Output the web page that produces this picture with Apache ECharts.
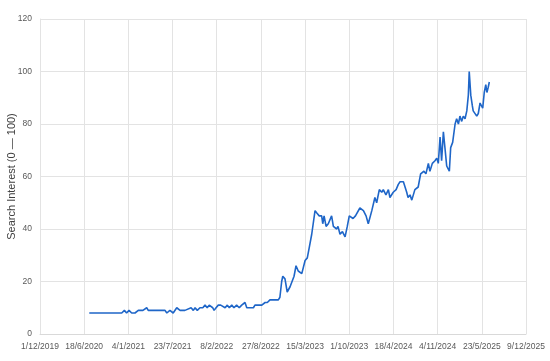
<!DOCTYPE html>
<html>
<head>
<meta charset="utf-8">
<script src="https://cdn.jsdelivr.net/npm/echarts@6/dist/echarts.min.js"></script>
<style>
html,body{margin:0;padding:0;background:#fff;}
#chart{width:550px;height:361px;}
</style>
</head>
<body>
<div id="chart"></div>
<script>
const dates = [
"2020-07-11","2020-12-05","2020-12-17","2020-12-27","2021-01-07","2021-01-19","2021-02-03","2021-02-18","2021-03-11","2021-03-28",
"2021-04-04","2021-06-19","2021-06-27","2021-07-11","2021-07-26","2021-08-11","2021-08-26","2021-09-17","2021-10-15","2021-10-25",
"2021-11-02","2021-11-12","2021-11-24","2021-12-07","2021-12-17","2021-12-27","2022-01-05","2022-01-13","2022-01-21","2022-01-27",
"2022-02-05","2022-02-15","2022-02-26","2022-03-07","2022-03-18","2022-03-28","2022-04-06","2022-04-17","2022-04-27","2022-05-09",
"2022-05-21","2022-06-01","2022-06-08","2022-06-16","2022-06-24","2022-07-01","2022-07-09","2022-07-24","2022-07-31","2022-08-15",
"2022-08-31","2022-09-15","2022-09-25","2022-10-07","2022-11-14","2022-11-21","2022-11-29","2022-12-04","2022-12-14","2022-12-24",
"2023-01-06","2023-01-24","2023-02-02","2023-02-12","2023-02-28","2023-03-15","2023-03-25","2023-04-03","2023-04-14","2023-04-29",
"2023-05-08","2023-05-18","2023-05-29","2023-06-03","2023-06-09","2023-06-18","2023-06-28","2023-07-13","2023-07-21","2023-08-05",
"2023-08-11","2023-08-20","2023-08-31","2023-09-12","2023-09-22","2023-10-01","2023-10-18","2023-10-29","2023-11-18","2023-12-04",
"2023-12-16","2023-12-26","2024-01-11","2024-01-25","2024-02-02","2024-02-14","2024-02-25","2024-03-03","2024-03-15","2024-03-26",
"2024-04-02","2024-04-17","2024-04-30","2024-05-10","2024-05-18","2024-06-02","2024-06-17","2024-06-23","2024-07-02","2024-07-10",
"2024-07-17","2024-07-24","2024-08-08","2024-08-19","2024-09-03","2024-09-12","2024-09-23","2024-09-30","2024-10-11","2024-10-23",
"2024-10-31","2024-11-07","2024-11-15","2024-11-22","2024-11-30","2024-12-07","2024-12-15","2024-12-27","2025-01-02","2025-01-11",
"2025-01-22","2025-01-29","2025-02-06","2025-02-13","2025-02-21","2025-02-28","2025-03-08","2025-03-16","2025-03-23","2025-03-27",
"2025-04-03","2025-04-10","2025-04-14","2025-04-22","2025-04-30","2025-05-07","2025-05-15","2025-05-22","2025-05-27","2025-06-03",
"2025-06-10","2025-06-15","2025-06-21","2025-06-26"
];
const values = [
8,8,9,8,9,8,8,9,9,10,
9,9,8,9,8,10,9,9,10,9,
10,9,10,10,11,10,11,11,10,9,
10,11,11,11,10,11,10,11,10,11,
10,11,11,12,10,10,10,10,11,11,
11,12,12,13,13,14,20,22,21,16,
18,22,26,24,23,28,29,33,38,47,
46,45,45,42,45,41,42,45,41,40,
41,38,39,37,41,45,44,45,48,47,
45,42,47,52,50,55,54,55,53,55,
52,54,55,57,58,58,54,52,53,51,
53,55,56,61,62,61,65,62,65,66,
67,65,75,66,77,71,64,62,71,73,
80,82,80,83,81,83,82,85,91,100,
91,87,85,85,83,84,88,88,86,92,
95,92,94,96
];
const yTicks = {min: 0, max: 120, step: 20};
const xStart = "2019-12-01";
const xEnd = "2025-12-09";
const xStepDays = 200;
const yTitle = "Search Interest (0 \u2014 100)";

const DAY = 86400000;
function parseUTC(s){ const p = s.split('-').map(Number); return Date.UTC(p[0], p[1]-1, p[2]); }
const BASE = parseUTC(xStart);
function toDay(s){ return Math.round((parseUTC(s) - BASE) / DAY); }
function fmt(v){ const d = new Date(BASE + v*DAY); return d.getUTCDate() + '/' + (d.getUTCMonth()+1) + '/' + d.getUTCFullYear(); }

const seriesData = dates.map((d,i) => [toDay(d), values[i]]);

const chart = echarts.init(document.getElementById('chart'), null, {renderer:'canvas'});
chart.setOption({
  animation: false,
  backgroundColor: '#ffffff',
  grid: {left: 40, right: 24, top: 19, bottom: 27, containLabel: false, outerBoundsMode: 'none'},
  xAxis: {
    type: 'value',
    min: 0,
    max: toDay(xEnd),
    interval: xStepDays,
    axisLine: {show: true, lineStyle: {color: '#d9d9d9', width: 1}},
    axisTick: {show: false},
    splitLine: {show: true, lineStyle: {color: '#e3e3e3', width: 1}},
    axisLabel: {
      formatter: fmt, color: '#595959', fontSize: 8.5,
      fontFamily: 'Liberation Sans, Arial, sans-serif', margin: 8,
      showMinLabel: true, showMaxLabel: true
    }
  },
  yAxis: {
    type: 'value',
    min: yTicks.min, max: yTicks.max, interval: yTicks.step,
    name: yTitle,
    nameLocation: 'middle',
    nameGap: 23,
    nameRotate: 90,
    nameMoveOverlap: false,
    nameTextStyle: {color: '#404040', fontSize: 11, fontFamily: 'Liberation Sans, Arial, sans-serif'},
    axisLine: {show: true, lineStyle: {color: '#e3e3e3'}},
    axisTick: {show: false},
    splitLine: {show: true, lineStyle: {color: '#e3e3e3', width: 1}},
    axisLabel: {color: '#595959', fontSize: 8.5, fontFamily: 'Liberation Sans, Arial, sans-serif', margin: 8}
  },
  series: [{
    type: 'line',
    data: seriesData,
    showSymbol: false,
    symbol: 'none',
    lineStyle: {color: '#1f66c8', width: 1.6},
    itemStyle: {color: '#1f66c8'}
  }]
});
</script>
</body>
</html>
